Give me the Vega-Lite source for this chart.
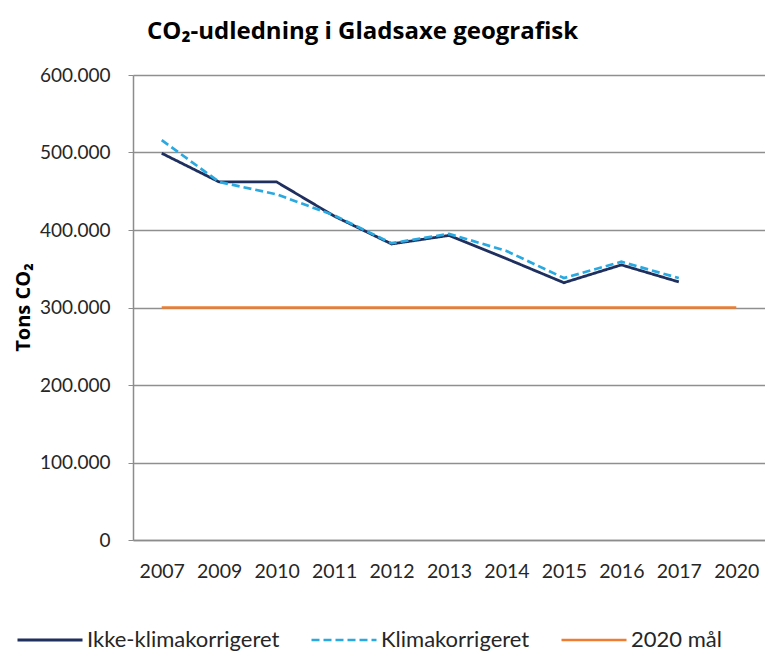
{
  "$schema": "https://vega.github.io/schema/vega-lite/v6.json",
  "autosize": "none",
  "width": 632,
  "height": 465,
  "padding": {"left": 133, "top": 75, "right": 0, "bottom": 111},
  "background": "white",
  "config": {
    "locale": {"number": {"decimal": ",", "thousands": ".", "grouping": [3], "currency": ["", " kr"]}},
    "font": "Lato",
    "view": {"stroke": null}
  },
  "title": {
    "text": "CO₂-udledning i Gladsaxe geografisk",
    "anchor": "start",
    "frame": "group",
    "dx": 14,
    "offset": 22,
    "fontSize": 24,
    "fontWeight": "bold",
    "font": "Open Sans",
    "color": "#000000"
  },
  "data": {
    "values": [
      {"year": "2007", "series": "Ikke-klimakorrigeret", "value": 499000},
      {"year": "2009", "series": "Ikke-klimakorrigeret", "value": 462000},
      {"year": "2010", "series": "Ikke-klimakorrigeret", "value": 462000},
      {"year": "2011", "series": "Ikke-klimakorrigeret", "value": 418000},
      {"year": "2012", "series": "Ikke-klimakorrigeret", "value": 382000},
      {"year": "2013", "series": "Ikke-klimakorrigeret", "value": 393000},
      {"year": "2014", "series": "Ikke-klimakorrigeret", "value": 363000},
      {"year": "2015", "series": "Ikke-klimakorrigeret", "value": 332000},
      {"year": "2016", "series": "Ikke-klimakorrigeret", "value": 355000},
      {"year": "2017", "series": "Ikke-klimakorrigeret", "value": 333000},
      {"year": "2007", "series": "Klimakorrigeret", "value": 516000},
      {"year": "2009", "series": "Klimakorrigeret", "value": 462000},
      {"year": "2010", "series": "Klimakorrigeret", "value": 446000},
      {"year": "2011", "series": "Klimakorrigeret", "value": 419000},
      {"year": "2012", "series": "Klimakorrigeret", "value": 383000},
      {"year": "2013", "series": "Klimakorrigeret", "value": 395000},
      {"year": "2014", "series": "Klimakorrigeret", "value": 373000},
      {"year": "2015", "series": "Klimakorrigeret", "value": 338000},
      {"year": "2016", "series": "Klimakorrigeret", "value": 359000},
      {"year": "2017", "series": "Klimakorrigeret", "value": 338000},
      {"year": "2007", "series": "2020 mål", "value": 300000},
      {"year": "2009", "series": "2020 mål", "value": 300000},
      {"year": "2010", "series": "2020 mål", "value": 300000},
      {"year": "2011", "series": "2020 mål", "value": 300000},
      {"year": "2012", "series": "2020 mål", "value": 300000},
      {"year": "2013", "series": "2020 mål", "value": 300000},
      {"year": "2014", "series": "2020 mål", "value": 300000},
      {"year": "2015", "series": "2020 mål", "value": 300000},
      {"year": "2016", "series": "2020 mål", "value": 300000},
      {"year": "2017", "series": "2020 mål", "value": 300000},
      {"year": "2020", "series": "2020 mål", "value": 300000}
    ]
  },
  "mark": {"type": "line", "strokeCap": "butt"},
  "encoding": {
    "x": {
      "field": "year",
      "type": "ordinal",
      "scale": {"type": "point", "padding": 0.5},
      "axis": {
        "title": null,
        "labelAngle": 0,
        "labelFontSize": 19.5,
        "labelColor": "#262626",
        "labelPadding": 22,
        "ticks": false,
        "domainColor": "#8c8c8c",
        "domainWidth": 1.5,
        "grid": false
      }
    },
    "y": {
      "field": "value",
      "type": "quantitative",
      "scale": {"domain": [0, 600000], "nice": false},
      "axis": {
        "values": [0, 100000, 200000, 300000, 400000, 500000, 600000],
        "format": ",d",
        "labelFontSize": 19,
        "labelColor": "#262626",
        "labelPadding": 18,
        "tickSize": 5,
        "tickColor": "#8c8c8c",
        "domainColor": "#8c8c8c",
        "domainWidth": 1.5,
        "gridColor": "#8f8f8f",
        "gridWidth": 1.3,
        "title": "Tons  CO₂",
        "titleFont": "Open Sans",
        "titleFontSize": 20,
        "titleFontWeight": "bold",
        "titleColor": "#000000",
        "titleX": -110,
        "titleY": 232,
        "titleAngle": 270,
        "titleAlign": "center",
        "titleBaseline": "middle"
      }
    },
    "color": {
      "field": "series",
      "type": "nominal",
      "scale": {
        "domain": ["Ikke-klimakorrigeret", "Klimakorrigeret", "2020 mål"],
        "range": ["#1f2f5e", "#2aa9e0", "#ed7d31"]
      },
      "legend": {
        "title": null,
        "orient": "none",
        "legendX": -117,
        "legendY": 531,
        "direction": "horizontal",
        "symbolType": "stroke",
        "symbolSize": 4225,
        "labelFontSize": 22,
        "labelColor": "#262626",
        "labelOffset": 3,
        "columnPadding": 26,
        "labelLimit": 400,
        "encode": {
          "symbols": {
            "update": {
              "strokeWidth": {"signal": "datum.value === '2020 mål' ? 5 : 2.8"}
            }
          }
        }
      }
    },
    "strokeDash": {
      "field": "series",
      "type": "nominal",
      "scale": {
        "domain": ["Ikke-klimakorrigeret", "Klimakorrigeret", "2020 mål"],
        "range": [[1, 0], [8, 4], [1, 0]]
      },
      "legend": null
    },
    "strokeWidth": {
      "field": "series",
      "type": "ordinal",
      "scale": {
        "domain": ["Ikke-klimakorrigeret", "Klimakorrigeret", "2020 mål"],
        "range": [2.8, 2.6, 5]
      },
      "legend": null
    }
  }
}
